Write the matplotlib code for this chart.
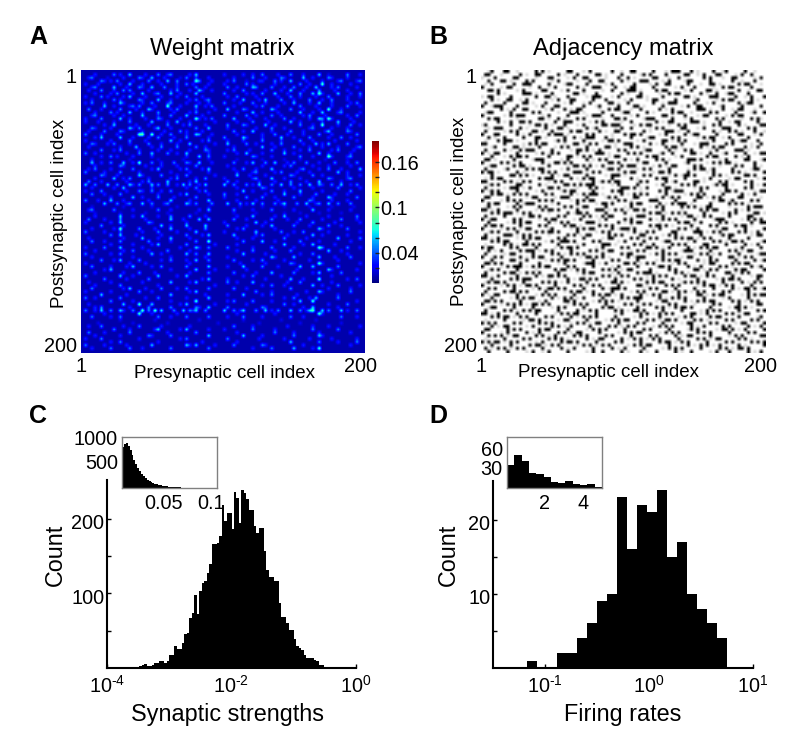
import numpy as np
import matplotlib
matplotlib.use('Agg')
import matplotlib.pyplot as plt
from matplotlib.transforms import ScaledTranslation

plt.rcParams['font.family'] = ['Liberation Sans', 'DejaVu Sans']
plt.rcParams['mathtext.fontset'] = 'custom'
plt.rcParams['mathtext.rm'] = 'Liberation Sans'
plt.rcParams['mathtext.default'] = 'regular'

W, H = 800, 754

weight_rows = [
    "000000000000000000000000000000000000000000000000000000000000000000000000000000000000000000",
    "000020000030200400002000300230000020400000000200000200200300002000300020000400100000300020",
    "002300001000020000320040002000010300200020000000200000300020000320000040020000320000200000",
    "000000320203000020000300200400300000530002000020300010002200030200400002000020000230000230",
    "020002000000200400020000020000200302000020000200000030200000020000000300200050020000020000",
    "000230000040002000320040003000200000300200000030020000430000300020030002004000020300000200",
    "002000300020030300000200000020300020042002000000200300000020000200400020000300002000200000",
    "000020000203000020040002300040020000400000000300000020200300040002000300040520000400020030",
    "020000302000020400002000020000200300002000000020030000020000002000300200002000300000200020",
    "000200000030200000320000400020000020300230000000200400002040000300020000300020030000200000",
    "020300020000420000020030000230000200020020000300002000300020000020040000200400020000020300",
    "000000040020000230300002000500020000400203000000200000020300002000000300002000020000300020",
    "003000200000300002000420000020300000200000200040000320000000420000300020000200500020000000",
    "000020000302000400020000300002000020300020000000020000400200002000000400020040000230000020",
    "000230000020020000040000200030000400002000000300000030020000300200000020300002000000200300",
    "020000300000400200002000320000020000520203000000400002000020000030020000200430520000020000",
    "020002000020000300000040000200400020000000200000020000300002000000400200000020000400002000",
    "000000020040000002000200000300002030000200000030000320000040020000000300020050000200030020",
    "000320000200000420300002400020000000300040000020000000020000300020000000230000020000200000",
    "002000030000320000020000002000030200002000000000300200400000200000300020000002400000320000",
    "030000200002000000550050020030000200430002000000020000000200030002000020000300020000000300",
    "000020400000400020000200300002000300000020000300000420000200000400020000300000200030020000",
    "020000000200000300002000000040020000002030000020000200000300000200000300020000002000000200",
    "000320002030000200000300020000200040000000200040000030020000200300000020004020400000300000",
    "002000000000200004000020030000300000300200000000200000000400020000030000200020000200000230",
    "000000300020300000200000200020000020000320000020300002000000300020000200300000020300002000",
    "030020000000002000300040000300200400000020000000020040000200000040020000000400200000020000",
    "000000200302000020000020000000000200040030000200000000320000200000000300020000520000230000",
    "000200000000000100000000100000001000000010000000010000000100000010000100000001000000100000",
    "000400200300040020500030020003000320040002000000300020400030040002030003000200003000200300",
    "000020000000320000002000020000200000300000000020000000000200000020300000020000200000020000",
    "002030000200000030000020400000020300002040000000200300020000400000000230000200300020000040",
    "030000020000300000200000000020000020000020000000020000230000020300002000200000000400200000",
    "000000320002000000420000030000200300000000200000040002000020000000320000030020000000200020",
    "000020000040020300000200000020300000200300000200000000230000400020000200000000320000230000",
    "003000200000002000020300000400000020400000000030020000002000020000300002000400000020000000",
    "040030004003000420300040300300204030020400000400300030204000300400300300400320030040020300",
    "000200000020040000000020000000000200300000000000020000000320000000020000020000000300000020",
    "020000300000002000320030020030000000020300000000000400200000300020000400000020000000030000",
    "000300020000300000000000200000020400000020000300020000000020000040000200003000002000200000",
    "000000000200000040020000300002000000300000000200000030000300020000030000020000420000000300",
    "030002000400020000000200000040000020000040000000020000020000002000000000320000020000200000",
    "000000040003002300040030002300000420300003000040003020400300030240003004002300400300030000",
    "000100000000010000000010000000100000000010000000001000000100000010000000100000010000001000",
    "002300000030000020000000300020000000020040000000300000200000300000020000040000200000020000",
    "000010000000100000001000000100000000100000000000100000010000000010000100000100000010000000",
    "000020000000400020040000200030000030000200000000020000400000020040000002000000200000000300",
    "003000020000300000002000000040002000040040000000300020000000300002000300000020000030000200",
    "020000000200400000000320000000000200000000000200000000040020000000002000030000002000000020",
    "000000300000020000000000040020000400000400000030000020000200400000030000200000300020000000",
    "000200000020500000300002000040000020000300000000020300000000020000000000000420000000300000",
    "030000020000200000020000300000200000400000000200000000040000000300020030000000200000000020",
    "000000000300400002000000020000000300002040000000400000020300000002000000040020000000200000",
    "002000000000020000040000200040000020000000000000020000200000000030000002000000000400000030",
    "000300020000300000000300000020000000300050000000000300000400020000000300000200000000020000",
    "000000000200000020000020400000000300000000200000020000000000000040000020040000002000000000",
    "020000030000400000020000000000020000420030000030000000200000300000020000000530000000300020",
    "000020000000020030000200000300000020000000000000020000300000020000300000000000400020000000",
    "030000000200300000000040020000000400300040000000000400000020000000000200030000000000200000",
    "000200000000000020000000000020000000000200000020000000000000420000040000000400002000030000",
    "000000300020400000300000020030000200400030000000300000200300000020000000200000000200000000",
    "020000000000000200002000000000000020000000000000002000000020000000320000000520000000000020",
    "000300000200002040000020030000000300000040000020000400000300002000000400040000000300000000",
    "000000020400000000000000000020000000400000200000000020000000000000002000000000420000000200",
    "000020000000020000300002000000000020000030000000300000020000400000030000020400000030000000",
    "030000000000400020000000400000200400000000000000000200300000000200000000000000020000000000",
    "000000030000002000000300000000000000002040000020000000000020000000400020000500000000200300",
    "002000000200000000020000000040000020400000000030020000400000000002000300000000020000000000",
    "000020000000300000000000200000000000000000200000000000000200300020000000040020000300000020",
    "000300000000020400002000030000200300000030000000300020000000000000300000000000200000020000",
    "020000000200000000300020000000000020400000000000000000030000200000000002000420000000030000",
    "000000400000002000000000000040000000000200000020000400000200300000002000000000000200000000",
    "030020000000300000002000300000000200000040000000000000000000000020030000204000000300000000",
    "000000000300000020000000000020000000500000000020300000300000200000000400050000000000000200",
    "002000000000040000500040000000020400000000200000000020000000000030020000000000200000300000",
    "000020300000000200000300000030000000320040000030000000000320000000000020040000000200000000",
    "030020400300420030050305040003004032400300000400302400030040203000400302450040300040200300",
    "000000020000000000500020000000200000000000000000020000000000020000000000000520000000000000",
    "000300000200300000000000300020000300000030000020000300000200000000300020000000000030000200",
    "000000000000100000000001000000000000010000000000000100000000000100000000001000000000000000",
    "000001000000000010000000000100000000000000010000000000001000000000000100000000000010000000",
    "002000300000020000300000020000000020000000000000300000200000000002000000020000200000000020",
    "000000000030000200000002400000020400000020000200000000300000020000000000030000000300000000",
    "003000020000000300000000000200000000300000000000020000000000030000020000000200000000020000",
    "000020000000200000000320000030000000000040000000000400000200000000030000000420000000000000",
    "020000300000000000200000000000020300000000000030000000002000000020000000200000020000000200",
    "000000000200300000000000200000000000002000000000020000000000000000400000000300000200000300",
    "030000020000002000000040000000000420400000200000300000000320000000000020000000000000020000",
    "000200000300000300020000000030000000000030000000000000200000300000040000020500000000000000",
    "000000000000000000000000000000000000000000000000000000000000000000000000000000000000000000",
]

adjacency_rows = [
    "..+#...##..+.....#.#.+.....##...+.#......#..+..##.....#...+.###...#.+....#..+#.....#..+...",
    ".##...+.....#.+..##.....#.+...#.....##.+....#.....+#.#....#.....##..+.#...##....+.#..#....",
    "+...#.....##.....+...##....+.#..##.....+...#..#.+.....##...+..#.......#.#...+..##.....+.#.",
    "..#...##.+....#.#.....+.#.....+...#..##.....#.+...###....+.#....+##.....#......#..+...#...",
    ".+.#......#..###.....#....+##....#.....+.#......#....+.#..##.....#...+..##.+.....#.##...+.",
    "#.....+.##.....+..#..+.#......#.+..###....#..+.##.....#......+.#...#.....+..#.##.....#....",
    "..##.#.....+.#.....##....+.#....#.....+..#....###.+....#.##.....+.#....##.+......#..+..##.",
    ".....#.+.....###.+....#......##.+...#.......#.+...#.....+..#.##......#.+..#..+##....#.....",
    "+.##.....#.......#..##.+...#.....+.###...+.#.....##.+....#......##.+....###.....#..+.#...#",
    "...#.+..##..+.#.......+.#...##.....#...#.....+.#....+.##.....#.....+#.....+.#.##.....#.+..",
    ".#.....#.....##.+...#.....+.#...+.#.....##.+..#.......#..+.###.....#...+.#.......#.+##....",
    "#..+###....#.....+.#...##.......#...+#.....#....##.+.....#.....+.#..##.....+#.....#.....#.",
    "......#.+.#..##.....+.#...#.+.##.....+..#.##...+..#.....#.+.#.......###.+...#..+.##...+...",
    ".+##.....#......#.#.....+...###.+.....#.....+##.....#.+.....#.##..+.....#.#.....#....+#..#",
    "#......+.#.###.....+.#.....#.....+.###...#.....+.#.......##.+...#...+.##.....+.#.##.......",
    "..#.##.....+......##.+..#.+...#.#.....+...##.#.....+###.....#...+.#.......#.#.....+..#.#+.",
    ".....#.+.#..##.#.......#..###.....+.#.#.....+..#.......#.+.##.....###.+....#..+.##.....#..",
    "+#.......#.....+.##.#.+...#...+.#.....##.###....+.#.##.....+..#.#.....+..#.#.....#.+....##",
    "..+.###.....#.+.....#...##.+.....#.+#.....+.#..#.....+.#.#.....##...+.#.....###.....#.#...",
    ".#.....+.#.#....##.+..#.....#.##.....#.+..##.......#.+....###.+..#.......#.+..#.#.+...#..+",
    "#...##.....#.+.#.....#.###.+.....#.#.....+...#.##.#.....+.#.....#.+##.....#......##...+.#.",
    "..#.+..#.....#...##.+.....#..#.+.###...#.+.....#....+##.....#.#.....+.#.##..+.#.....#.....",
    ".+...#.###.+.....#.....+#.#.....#.....+.##.#.....+.#.....##.+.#.#......+.#.....#.+##...#..",
    "##.....#.....+.#.#.##.....+..##.+.#.#.....+..###.....#.+.#.....#...+.###.....#.#.....+..#.",
    "...+#.....##.+....#....+.#.#.....#.....##.+....#.#.+......#.##.+.....#.+.#.##......#.+.#..",
    ".#.....#.+..#.###.....#.....+.##.#.+.#.....#.#.....+##.....#.+..#.#.....+.#.....###.+.....",
    "#.+.##.....#.....+.#.+#.#.....#.....###.+.....#.#.#.....+#..#.....##.+..#...+#.....#..+.##",
    "...#...+.#.##.#......#.....##.+.#.#.....+.##.....+..#.##.....+.#.......#.##.....#.+.#.....",
    ".##.+.....#.....+###.....+.#.....#.+.#.#.....#.+.#.....#.#.+.....###.#.....+.#.....##...+#",
    "#.....#.#.+.#......#.+.##.#.#.....+.....##.#.....+.##.....#.....+#.....+.#.#.##.+.....#...",
    "..+##.....#.##.+.....#.....+.##.#.#.+.#.....#.###.....+.#.+.##.....#.#.....+....#.#...#.+.",
    ".#.....+#.....#.#.##.....+.#.....#.....+##.#.....+.#.#.....#.....+.#.##.+#.....#.....+##..",
    "#.##.+.....#.+.....#.#.#.....###.+.#.#.....+.#.##.....+.##.#.....#.....+.#.....#.#.+.....#",
    "...#.....##.#.#.+.....#.+.##.....#.....+.###.+.....#.#.....+.#.+##.#.....#.#.+.....##.#...",
    ".+.#.##.....+.....#.###.....#.+.#.##.....#.....#.+.....#.##.....#.....+.#.....+.##.....+.#",
    "##.....#.#.+.#.#.....+.#.#.....+...#.+#.#.##.....+#.#.....#.+#.....##.+....#.#.....#.#....",
    "..+#.#.....##.....#.+.....##.#.#.###.....+.#.....#.....+.#.....#.#.#.....+#.##.+.....#.+.#",
    ".#.....+.###.+.#.....##.#.....+...#.#.+.....###.#.+.#.....##.+.....+.#.#.....#.....#.#....",
    "#.+#.#.....#.....+.#.....+#.##.....#.....#.##.....+.....#.#.+###.....#.....+.##.#.....+.##",
    "...#.##.+.#.#.#.....#.#.....#.+.#.###.+.....#.+.#.#.#.....#.....+.#.#.#.....#.....#.+.#...",
    ".##.....#.....+.##.....+.###.....#.....+#.#.....##.....+.#.+#.#.....##.+.#.#.....##.....+.",
    "#.....+.#.#.#.....#.#.#.....+.#.#.##.....+.#.#.+.....###.....#.....#.....+.##.+#.....#.#..",
    "..#.##.....#.+###.....+.#.....#.....+.##.#.....#.##.....#.+.#.###.+.....#.....#.#.#.+.....",
    ".+#.....+.#.#.....#.#.....#.#.+.##.....#.....+.#.....+.#.#.....#.#.#.+.##.....+.....#.###.",
    "##.+.#.....#.....+.#.##.#.....#.....###.+.#.#.+.##.#.....#.....+.....#.#.##.....#.+.#.....",
    "...#.#.###.+.#.#.....+.....#.+##.#.....#.....#.....+.#.##.+.#.#.#.....#.....+.#.#.....##.+",
    ".#.....#.....+.##.#.....#.#.....#.#.+.#.##.....+.###.....#.....+.##.+.#.#.....#.....##....",
    "#.+##.....#.#.....+.#.##.....+.#.....+.#.....#.#.....#.+.#.#.#.....#.....+###.....+.#.#.#.",
    "..#.....+.#.#.##.....#.+.#.#.....###.+.....#.+.#.##.....+.....#.##.+.#.....#.#.+.....#..##",
    ".#.##.#.....#.....#.#.....#.##.+.....#.#.#.....+.....#.##.#.+.....#.....#.#.....#.##.+....",
    "#.....+.#.#.+.##.....+#.....+.#.#.##.....#.+###.#.....+.#.....#.#.+.#.....+.##.....#.....#",
    "..+#.#.....#.....#.#.##.#.....#.....+.#.#.....+.#.+.#.#.....##.....###.+.#.#.....#.#.+.#..",
    ".#.....###.+.#.#.....+.....#.#.+.##.....#.#.#.....##.....+.#.#.+.....#.....+#.##.....+.##.",
    "##.+.#.....+.#.#.##.....#.#.....#.....+.##.....#.#.+.#.#.....#.#.##.+.#.#.....#.....#.....",
    "...#.#.##.....#.....+.#.+###.#.....#.#.....+.#.....#.....+##.....+.#.....#.#.+.##.#.....+#",
    ".+.....#.#.+.##.#.#.....#.....+.#.....###.+.....#.#.+.#.....#.#.#.....##.....#.....#.+.#..",
    "#.##.....#.#.....#.....+.#.##.#.....+.#.....#.#.....##.#.+.#.....#.+.#.#.##.....+.#.....#.",
    "..#.+.#.....#.###.+.#.#.....#.....#.#.+.##.....+.#.#.....#.....+###.....#.....#.#.+.##....",
    ".#.....+.##.....#.....#.#.+.#.#.#.....#.....#.##.....+.#.#.#.#.....+.#.#.+.#.....#.....+##",
    "#..+#.#.....#.+.#.##.....#.....+.##.#.#.+.....#.+###.....#.....+.##.....#.....##.+.#.#....",
    "...#.....##.+.#.....+.#.#.##.#.....#.....#.#.....#.....+.#.#.##.....#.+.#.#.....#.....#.+#",
    ".##.#.#.....#.....#.....+.#.....+###.+.#.....##.#.+.#.#.....+.#.#.....+.##.....#.#.##.....",
    "#.....+.#.###.+.#.#.##.....#.#.....#.....+.#.....#.....+##.#.....#.+.#.....#.#.+.....#.+#.",
    "..+#.#.....#.....+.....#.##.+.#.#.....#.#.#.+.##.....#.....#.#.....##.+.#.#.....#.##.....#",
    ".#.....#.##.+.#.#.#.....#.....+.#.##.....+.#.....#.###.+.....#.#.+.....#.....##.+.#.#.....",
    "##.+.#.....#.....#.+.##.#.#.....+.....#.#.+.#.#.....+.#.#.#.....#.##.+.#.#.....#.....+.##.",
    "...#.....#.#.###.....+.....#.+.##.#.#.....#.....#.#.+.#.....#.+.....#.....+.#.##.#.....#..",
    ".+#.##.#.....#.....#.#.#.+.#.....#.....+.##.#.+.....#.#.##.....+#.#.#.#.....#.....#.+.#.#.",
    "#.....+.#.#.+.##.#.....#.....#.#.+.#.#.....#.....##.+.....#.#.#.....+.#.##.+.#.#.....#....",
    "..#.#.....#.....+.#.+##.#.#.....#.....#.+###.#.....+.#.#.....#.....#.....#.....#.+.##.#.+#",
    ".#.....#.##.#.#.....#.....+.#.##.+.#.....#.....+.#.#.....##.+.#.#.+.#.#.....#.#.....#.....",
    "#.+.##.....#.....+.#.#.#.....#.....#.#.##.+.#.....#.+.#.#.....#.....##.+.#.##.....+.#.#.##",
    "...#.....+.#.#.##.....#.+.#.#.+.#.....#.....#.#.###.....#.+.#.#.#.....#.....+.#.....#.....",
    ".##.#.#.....#.....+.#.....##.#.....+.#.#.#.+.....#.....+.##.....#.+.#.#.##.....#.#.+.#.#..",
    "#.....+.#.#.#.+.##.#.#.....+.#.#.#.....#.....#.#.+.#.#.....#.#.....+.....#.#.....#.....##.",
    "..+##.....#.....#.....+.#.#.....#.....#.##.+.....#.....#.#.+.#.##.#.....#.....+.##.#.+....",
    ".#.....#.#.+.#.#.##.....#.....#.+.#.#.....#.#.+.##.#.....#.....#.....+.#.#.#.....#.....#.#",
    "##.+.#.....#.....#.....+.#.#.##.....#.....+.#.....#.#.+.#.#.#.....##.+.#.....#.#.+.##.....",
    "...#.#.##.+.#.#.....#.#.....#.+.#.#.#.....#.....+.#.....#.....+.#.#.....#.##.....#.....+#.",
    ".+.....#.....+.##.#.....+.##.....#.....+.#.#.##.....#.#.+.##.#.....#.#.+.....#.#.....#.#..",
    "#.#.#.....#.#.....#.#.#.....+.#.#.+.##.....#.....#.#.....#.....+.##.....#.#.....+.##.....#",
    "...#.+.##.....+.#.....#.#.+.#.....#.....#.#.+.#.#.....+.#.#.#.....#.+.#.....#.#.....#.+.#.",
    ".##.....#.#.#.....#.##.....#.....+.#.#.#.....#.....#.#.....#.....+#.#.....+.##.#.+.#.....#",
    "#.....+.#.....#.+.#.....#.#.+.##.....#.....+.#.#.##.....+.#.#.#.....#.#.#.....#.....#.#...",
    "..#.#.#.+.##.....#.#.+.#.....#.#.#.....#.#.....#.....#.#.....#.+.##.....#.....+.#.#.....##",
    ".+.....#.....#.#.....#.#.#.+.....#.+.##.....#.+.#.#.+.#.#.....#.....#.#.+.##.....#.#.+....",
    "#.#.##.+.#.#.....+.#.....#.##.#.....#.....#.#.....#.....#.##.+.#.#.....#.....#.#.....#.#.#",
    "...#.....#.....#.##.+.#.#.....+.#.#.+.#.#.....+.#.#.##.....#.....#.+.#.#.+.#.....#.+.....#",
    ".#.+.#.#.+.#.#.....#.....#.+.#.....#.....#.+.#.....#.....+.#.#.#.....#.....#.#.+.##.#.....",
    "..#.....#.....+.#..+.#.....#.....+.#..#.....#.+...#.+..#.....#.+..#.....+.#...#.....#.+.#.",
]

# histogram C, log10 bins from 1e-4 to 1e0
strength_counts = [
    0, 0, 1, 0, 1, 1, 1, 1, 1, 2, 2, 1, 1, 3, 4, 6, 3, 3, 4, 7,
    7, 10, 10, 7, 9, 17, 17, 29, 25, 25, 34, 45, 47, 67, 74, 98, 72, 103, 114, 116,
    128, 139, 166, 166, 168, 177, 219, 197, 208, 208, 186, 236, 228, 195, 239, 235, 226, 212, 212, 191,
    181, 188, 188, 157, 132, 122, 122, 117, 117, 87, 69, 69, 60, 51, 51, 39, 30, 27, 24, 18,
    14, 14, 13, 11, 10, 4, 4, 2, 1, 1, 1, 1, 1, 1, 1, 1, 1, 1, 0, 0,
]
strength_inset = [
    850, 920, 930, 870, 780, 680, 580, 490, 420, 350, 300, 250, 210, 175, 150, 125, 105,
    90, 75, 65, 55, 47, 40, 35, 30, 25, 22, 19, 16, 14, 12, 10, 9, 8, 7, 6, 5, 4, 4,
    3, 3, 2, 2, 2, 1, 1, 1, 1, 1, 1,
]

# histogram D
rate_log_edges = [
    -1.172, -1.076, -0.980, -0.884, -0.788, -0.692, -0.596, -0.500, -0.404, -0.308, -0.212,
    -0.116, -0.020, 0.076, 0.172, 0.268, 0.364, 0.460, 0.556, 0.652, 0.749,
]
rate_counts = [1, 0, 0, 2, 2, 4, 6, 9, 10, 23, 16, 22, 21, 24, 15, 17, 10, 8, 6, 4]
rate_inset = [37, 52, 43, 24, 22, 17, 9.5, 8, 11.5, 6, 5, 6, 2]

TICK_SIZE = 14.3


def px_axes(fig, x0, y0, x1, y1):
    return fig.add_axes([x0 / W, 1 - y1 / H, (x1 - x0) / W, (y1 - y0) / H])


def label(fig, x, y, s, **kw):
    kw.setdefault('ha', 'center')
    kw.setdefault('va', 'center')
    kw.setdefault('fontsize', 13.5)
    return fig.text(x / W, 1 - y / H, s, **kw)


def shift_labels(fig, labels, dx, dy):
    # the labels sit a few pixels away from their ticks in the original
    offset = ScaledTranslation(dx / 100, -dy / 100, fig.dpi_scale_trans)
    for t in labels:
        t.set_transform(t.get_transform() + offset)


def log_label(v, _):
    p = round(np.log10(v))
    if p < 0:
        return '$10^{\u2010%d}$' % -p
    return '$10^{%d}$' % p


def matrix_panel(fig, rect, grid, cmap, vmin, vmax, title, title_x):
    ax = px_axes(fig, *rect)
    im = ax.imshow(grid, cmap=cmap, vmin=vmin, vmax=vmax, aspect='auto',
                   interpolation='bilinear', extent=(1, 200, 200, 1))
    ax.set_xticks([1, 197], ['1', '200'], fontsize=TICK_SIZE)
    ax.set_yticks([5, 194], ['1', '200'], fontsize=TICK_SIZE)
    ax.tick_params(length=0, pad=3)
    for s in ax.spines.values():
        s.set_visible(False)
    label(fig, title_x, 49, title, fontsize=17)
    return ax, im


def hist_panel(fig, ax, top, xlim, yticks, yminor, xticks):
    ax.set_xscale('log')
    ax.set_xlim(*xlim)
    ax.set_ylim(0, top)
    ax.set_yticks(yticks, [str(t) for t in yticks], fontsize=TICK_SIZE)
    ax.set_yticks(yminor, minor=True)
    ax.set_xticks(xticks)
    ax.xaxis.set_major_formatter(plt.FuncFormatter(log_label))
    ax.xaxis.set_minor_locator(plt.NullLocator())
    ax.tick_params(axis='both', which='both', direction='in', length=3, width=1, labelsize=TICK_SIZE)
    ax.tick_params(axis='x', pad=5)
    ax.tick_params(axis='y', pad=2)
    ax.spines[['top', 'right']].set_visible(False)
    ax.spines[['left', 'bottom']].set_linewidth(1.5)
    ax.patch.set_alpha(0)
    shift_labels(fig, ax.get_yticklabels(), 0, 3)


def inset_panel(fig, ax, edges, counts, xlim, ylim, xticks, xlabels, yticks, dx):
    ax.stairs(counts, edges, fill=True, color='black')
    ax.set_xlim(*xlim)
    ax.set_ylim(*ylim)
    ax.set_xticks(xticks, xlabels, fontsize=TICK_SIZE)
    ax.set_yticks(yticks, [str(t) for t in yticks], fontsize=TICK_SIZE)
    ax.tick_params(length=0, pad=3)
    ax.tick_params(axis='x', pad=4)
    for s in ax.spines.values():
        s.set_color('#808080')
        s.set_linewidth(1)
    shift_labels(fig, ax.get_xticklabels(), dx, 0)
    shift_labels(fig, ax.get_yticklabels(), 0, -2)


weight_levels = [0.008, 0.02, 0.032, 0.05, 0.065, 0.085]
weights = np.array([[weight_levels[int(c)] for c in r.ljust(90, '0')[:90]] for r in weight_rows])
adj_levels = {'#': 1.0, '+': 0.15, '.': 0.0}
adjacency = np.array([[adj_levels[c] for c in r.ljust(90, '.')[:90]] for r in adjacency_rows])

fig = plt.figure(figsize=(W / 100, H / 100), dpi=100)

# A
ax_a, im_a = matrix_panel(fig, (81, 70, 365, 353), weights, 'jet', 0, 0.188,
                          'Weight matrix', 222)
label(fig, 224, 373, 'Presynaptic cell index')
label(fig, 59, 213, 'Postsynaptic cell index', rotation=90)
cax = px_axes(fig, 372, 141, 379, 283)
cb = fig.colorbar(im_a, cax=cax)
cb.outline.set_visible(False)
cax.set_yticks([0.04, 0.1, 0.16], ['0.04', '0.1', '0.16'], fontsize=TICK_SIZE)
cax.set_yticks([0.02, 0.06, 0.08, 0.12, 0.14], minor=True)
cax.tick_params(which='both', direction='in', length=3, width=1, pad=1, color='#202020')

# B
ax_b, _ = matrix_panel(fig, (481, 70, 765, 353), adjacency, 'gray_r', 0, 1,
                       'Adjacency matrix', 623)
label(fig, 609, 372, 'Presynaptic cell index')
label(fig, 459, 211, 'Postsynaptic cell index', rotation=90)

# C
ax_c = px_axes(fig, 107, 480, 356, 668)
ax_c.stairs(strength_counts, 10 ** np.linspace(-4, 0, 101), fill=True, color='black')
hist_panel(fig, ax_c, 252, (1e-4, 1), [100, 200], [50, 150], [1e-4, 1e-2, 1])
ins_c = px_axes(fig, 122, 437, 217, 488)
inset_panel(fig, ins_c, np.linspace(0, 0.1, 51), strength_inset, (0, 0.1), (0, 1060),
            [0.05, 0.1], ['0.05', '0.1'], [500, 1000], -6)
label(fig, 228, 714, 'Synaptic strengths', fontsize=16.8)
label(fig, 55, 555, 'Count', fontsize=16.8, rotation=90)

# D
ax_d = px_axes(fig, 493, 481, 753, 668)
ax_d.stairs(rate_counts, 10.0 ** np.array(rate_log_edges), fill=True, color='black')
hist_panel(fig, ax_d, 25.2, (10 ** -1.5, 10), [10, 20], [5, 15], [0.1, 1, 10])
ins_d = px_axes(fig, 507, 437, 602, 488)
inset_panel(fig, ins_d, np.linspace(0, 5, 14), rate_inset, (0, 5), (0, 81),
            [2, 4], ['2', '4'], [30, 60], 0)
label(fig, 623, 714, 'Firing rates', fontsize=16.8)
label(fig, 448, 555, 'Count', fontsize=16.8, rotation=90)

for x, y, s in [(38, 37, 'A'), (438, 37, 'B'), (38, 416, 'C'), (438, 416, 'D')]:
    label(fig, x, y, s, fontsize=18, fontweight='bold')

fig.savefig('out.png', dpi=100)
